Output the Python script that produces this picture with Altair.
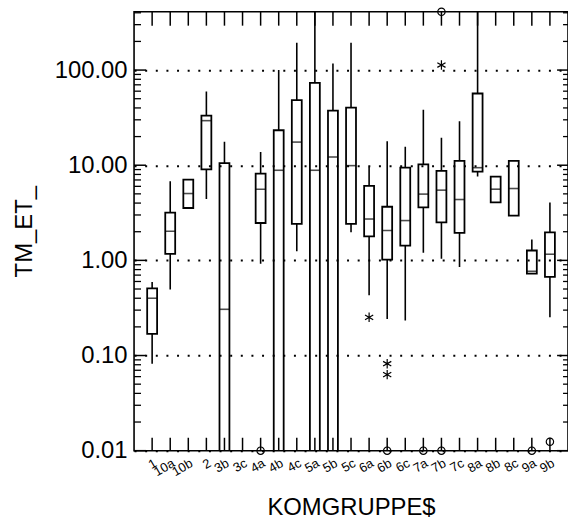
import altair as alt
import pandas as pd

# ---- data ----
groups = ["1", "10a", "10b", "2", "3b", "3c", "4a", "4b", "4c", "5a", "5b", "5c",
          "6a", "6b", "6c", "7a", "7b", "7c", "8a", "8b", "8c", "9a", "9b"]
whisk_lo = [0.082, 0.494, 3.55, 4.41, 0.001, None, 0.92, 0.001, 1.25, 0.001, 0.001, 1.97,
            0.431, 0.242, 0.233, 1.2, 1.04, 0.85, 7.59, 4.06, 2.95, 0.726, 0.252]
q1 = [0.169, 1.17, 3.55, 9.06, 0.001, None, 2.47, 0.001, 2.42, 0.001, 0.001, 2.42,
      1.79, 1.02, 1.43, 3.6, 2.51, 1.95, 8.55, 4.06, 2.95, 0.726, 0.67]
median = [0.40, 2.02, 5.04, 29.4, 0.306, None, 5.6, 8.85, 17.5, 8.85, 12.2, 9.9,
          2.72, 2.06, 2.62, 4.97, 5.47, 4.36, 9.42, 5.6, 5.69, 0.768, 1.16]
q3 = [0.507, 3.17, 7.06, 33.2, 10.5, None, 8.15, 23.3, 48.3, 73.3, 37.4, 40.4,
      6.06, 3.66, 9.42, 10.2, 8.7, 11.1, 56.7, 7.59, 11.1, 1.27, 1.97]
whisk_hi = [0.594, 6.79, 7.06, 59.5, 17.6, None, 13.8, 100, 194, 1000, 117.5, 194,
            9.64, 17.9, 15.6, 38.3, 19.4, 28.9, 410, 7.59, 11.1, 1.66, 4.06]

star_grp = ["6a", "6b", "6b", "7b"]
star_val = [0.252, 0.082, 0.063, 113]
circ_grp = ["4a", "6b", "7a", "7b", "7b", "9a", "9b"]
circ_val = [0.01, 0.01, 0.01, 0.01, 410, 0.01, 0.0124]

y_major = [0.01, 0.1, 1, 10, 100]
y_domain = [0.01, 410]

# ---- layout / style ----
W, H = 437, 442
FONT = "Liberation Sans"
y_minor = [m * d for d in [0.01, 0.1, 1, 10, 100] for m in range(2, 10) if m * d <= y_domain[1]]

boxes = pd.DataFrame({"grp": groups, "lo": whisk_lo, "q1": q1, "med": median,
                      "q3": q3, "hi": whisk_hi}).dropna()
stars = pd.DataFrame({"grp": star_grp, "v": star_val})
circs = pd.DataFrame({"grp": circ_grp, "v": circ_val})
ticks_x = pd.DataFrame({"grp": groups})
minor_df = pd.DataFrame({"v": y_minor})
major_df = pd.DataFrame({"v": y_major})

xscale = alt.Scale(domain=groups, type="point", padding=1)
yscale = alt.Scale(type="log", domain=y_domain, nice=False)

X = alt.X("grp:N", scale=xscale, sort=groups,
          axis=alt.Axis(title="KOMGRUPPE$", labelAngle=330, labelFontSize=13,
                        labelFont=FONT, titleFont=FONT, titleFontSize=24,
                        titleFontWeight="normal", ticks=False, domain=False,
                        labelPadding=6, titleY=64, titleBaseline="alphabetic",
                        labelColor="black", titleColor="black"))
Yax = alt.Axis(title="TM_ET_", values=y_major, format=".2f", labelFontSize=24,
               labelFont=FONT, titleFont=FONT, titleFontSize=24, titleFontWeight="normal",
               ticks=False, domain=False, grid=True, gridColor="black",
               gridDash=[2, 8.7], gridWidth=2, gridOpacity=1, labelPadding=7,
               titleX=-103, titleBaseline="alphabetic",
               labelColor="black", titleColor="black")

base = alt.Chart(boxes)

whisk_low = base.mark_rule(color="black", strokeWidth=1.6, clip=True).encode(
    x=X, y=alt.Y("lo:Q", scale=yscale, axis=Yax), y2="q1:Q")
whisk_high = base.mark_rule(color="black", strokeWidth=1.6, clip=True).encode(
    x=alt.X("grp:N", scale=xscale), y=alt.Y("q3:Q", scale=yscale), y2="hi:Q")
box = base.mark_bar(size=10, fillOpacity=0, stroke="black", strokeWidth=1.8,
                    clip=True).encode(
    x=alt.X("grp:N", scale=xscale), y=alt.Y("q1:Q", scale=yscale), y2="q3:Q")
med = base.mark_tick(size=10, thickness=1.6, color="black", orient="horizontal").encode(
    x=alt.X("grp:N", scale=xscale), y=alt.Y("med:Q", scale=yscale))

asterisk = "M0,-1L0,1M-0.87,-0.5L0.87,0.5M-0.87,0.5L0.87,-0.5"
star_layer = alt.Chart(stars).mark_point(shape=asterisk, size=90, filled=False,
                                         stroke="black", strokeWidth=1.2, opacity=1).encode(
    x=alt.X("grp:N", scale=xscale), y=alt.Y("v:Q", scale=yscale))
circ_layer = alt.Chart(circs).mark_point(shape="circle", size=55, filled=False,
                                         stroke="black", strokeWidth=1.2, opacity=1).encode(
    x=alt.X("grp:N", scale=xscale), y=alt.Y("v:Q", scale=yscale))

# frame ticks (drawn inward)
top_ticks = alt.Chart(ticks_x).mark_rule(color="black", strokeWidth=1.5).encode(
    x=alt.X("grp:N", scale=xscale), y=alt.value(0), y2=alt.value(14))
bot_ticks = alt.Chart(ticks_x).mark_rule(color="black", strokeWidth=1.5).encode(
    x=alt.X("grp:N", scale=xscale), y=alt.value(H - 13), y2=alt.value(H))
left_minor = alt.Chart(minor_df).mark_rule(color="black", strokeWidth=1.3).encode(
    y=alt.Y("v:Q", scale=yscale), x=alt.value(0), x2=alt.value(7))
left_major = alt.Chart(major_df).mark_rule(color="black", strokeWidth=1.5).encode(
    y=alt.Y("v:Q", scale=yscale), x=alt.value(0), x2=alt.value(12))
right_minor = alt.Chart(minor_df).mark_rule(color="black", strokeWidth=1.3).encode(
    y=alt.Y("v:Q", scale=yscale), x=alt.value(W - 5), x2=alt.value(W))
right_major = alt.Chart(major_df).mark_rule(color="black", strokeWidth=1.5).encode(
    y=alt.Y("v:Q", scale=yscale), x=alt.value(W - 11), x2=alt.value(W))

chart = alt.layer(
    whisk_low, whisk_high, box, med, star_layer, circ_layer,
    top_ticks, bot_ticks, left_minor, left_major, right_minor, right_major
).properties(
    width=W, height=H,
    autosize=alt.AutoSizeParams(type="none"),
    padding={"left": 135, "top": 10, "right": 0, "bottom": 72},
    background="white",
).configure_view(stroke="black", strokeWidth=1.6)

chart.save("out.html", embed_options={"renderer": "svg", "actions": False})
